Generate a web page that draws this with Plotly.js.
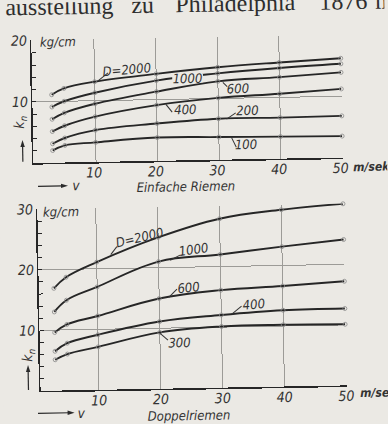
<!DOCTYPE html>
<html><head><meta charset="utf-8">
<script src="https://cdn.plot.ly/plotly-3.0.1.min.js"></script>
<style>
html,body{margin:0;padding:0;background:#ebe9e4;overflow:hidden;}
#chart{width:388px;height:424px;transform:rotate(-1.03deg);transform-origin:194px 212px;}
</style></head><body><div id="chart"></div>
<script>
// ---- data ----
const speeds = [3, 5, 10, 20, 30, 40, 50];
const einfacheNames = ['2000', '1000', '600', '400', '200', '100'];
const einfache2000 = [11.1, 12.1, 13.1, 14.2, 15.1, 15.7, 16.2];
const einfache1000 = [9.1, 10.0, 11.3, 13.1, 14.1, 14.8, 15.3];
const einfache600  = [7.1, 8.1, 9.5, 11.3, 12.8, 13.3, 13.9];
const einfache400  = [5.1, 6.0, 7.4, 9.1, 10.1, 10.6, 11.2];
const einfache200  = [3.1, 4.0, 5.2, 6.1, 6.7, 6.7, 6.8];
const einfache100  = [2.0, 2.8, 3.2, 3.8, 3.7, 3.6, 3.5];
const doppelNames = ['2000', '1000', '600', '400', '300'];
const doppel2000 = [16.9, 18.7, 21.1, 25.0, 27.9, 29.2, 30.0];
const doppel1000 = [13.0, 14.9, 17.0, 21.0, 22.0, 23.1, 24.1];
const doppel600  = [9.6, 10.9, 12.2, 14.9, 16.1, 16.6, 17.2];
const doppel400  = [6.5, 7.8, 9.1, 11.1, 12.0, 12.6, 12.7];
const doppel300  = [5.1, 6.0, 7.1, 9.3, 10.1, 10.2, 10.1];
const xTickVals = [10, 20, 30, 40, 50];
const xTickText = ['10', '20', '30', '40', '50'];
const yTickValsTop = [10, 20];
const yTickTextTop = ['10', '20'];
const yTickValsBottom = [10, 20, 30];
const yTickTextBottom = ['10', '20', '30'];
const einfacheLabels = ['D=2000', '1000', '600', '400', '200', '100'];
const doppelLabels = ['D=2000', '1000', '600', '400', '300'];

// ---- styling / placement ----
const W = 388, H = 424;
const px = X => X / W;
const py = Y => 1 - Y / H;
const PAPER = '#ebe9e4';
const INK = '#262626';
const GRID = '#9c9b97';
const FONT = "'DejaVu Sans Condensed', 'Liberation Sans Narrow', 'Roboto', sans-serif";
const ifont = (size) => ({family: FONT, size: size, color: '#333333', style: 'italic'});

// label placement (data coordinates) for each curve label + leader line
const einfachePlace = [
  {v: 15.3, k: 15.0, ang: -4, lead: [10.5, 13.2, 12.2, 14.5]},
  {v: 25.1, k: 13.4, ang: 0, mask: [22.6, 27.6, 12.7, 14.1]},
  {v: 33.2, k: 11.6, ang: 0, lead: [30.8, 12.6, 31.5, 11.9]},
  {v: 24.6, k: 8.3, ang: 0, lead: [21.5, 9.2, 22.5, 7.9]},
  {v: 34.7, k: 7.9, ang: 0, lead: [31.3, 6.6, 32.8, 7.6]},
  {v: 34.3, k: 2.4, ang: 0, lead: [32.0, 3.7, 32.8, 2.0]}
];
const doppelPlace = [
  {v: 17.1, k: 25.0, ang: -12, lead: [12.3, 22.3, 13.3, 23.6]},
  {v: 25.7, k: 22.9, ang: -7, lead: [21.9, 21.2, 23.5, 22.0]},
  {v: 24.7, k: 16.7, ang: -5, lead: [21.6, 15.1, 22.9, 16.4]},
  {v: 35.2, k: 13.6, ang: -4, lead: [31.7, 12.1, 33.3, 13.4]},
  {v: 23.1, k: 7.6, ang: 0, lead: [20.0, 9.2, 21.3, 8.0]}
];

const einfacheSeries = [einfache2000, einfache1000, einfache600, einfache400, einfache200, einfache100];
const doppelSeries = [doppel2000, doppel1000, doppel600, doppel400, doppel300];

function curve(ys, name, xa, ya) {
  return {
    x: speeds, y: ys, name: 'D=' + name, xaxis: xa, yaxis: ya,
    type: 'scatter', mode: 'lines+markers', hoverinfo: 'skip',
    line: {color: INK, width: 1.9, shape: 'spline', smoothing: 1.1},
    marker: {symbol: 'circle-open', size: 4, color: '#8a8a8a', line: {width: 0.8, color: '#8a8a8a'}},
    cliponaxis: false, showlegend: false
  };
}
const data = [];
einfacheSeries.forEach((s, i) => data.push(curve(s, einfacheNames[i], 'x', 'y')));
doppelSeries.forEach((s, i) => data.push(curve(s, doppelNames[i], 'x2', 'y2')));

const annotations = [];
const shapes = [];
function addLabels(texts, place, xr, yr) {
  texts.forEach((t, i) => {
    const p = place[i];
    if (p.mask) {
      shapes.push({type: 'rect', xref: xr, yref: yr, x0: p.mask[0], x1: p.mask[1], y0: p.mask[2], y1: p.mask[3],
        fillcolor: PAPER, line: {width: 0}, layer: 'above'});
    }
    annotations.push({
      xref: xr, yref: yr, x: p.v, y: p.k, text: t, showarrow: false,
      xanchor: 'center', yanchor: 'middle', textangle: p.ang, font: ifont(13)
    });
    if (p.lead) {
      shapes.push({type: 'line', xref: xr, yref: yr, x0: p.lead[0], y0: p.lead[1], x1: p.lead[2], y1: p.lead[3],
        line: {color: '#333', width: 1}});
    }
  });
}
addLabels(einfacheLabels, einfachePlace, 'x', 'y');
addLabels(doppelLabels, doppelPlace, 'x2', 'y2');

function ptext(X, Y, text, opts) {
  annotations.push(Object.assign({xref: 'paper', yref: 'paper', x: px(X), y: py(Y), text: text,
    showarrow: false, xanchor: 'center', yanchor: 'middle', font: ifont(13.5)}, opts || {}));
}
// arrow drawn as a line plus a small filled head (paper coordinates, in pixels)
function harrow(X0, X1, Y) {
  shapes.push({type: 'line', xref: 'paper', yref: 'paper', x0: px(X0), x1: px(X1 - 5), y0: py(Y), y1: py(Y),
    line: {color: '#2a2a2a', width: 1.2}});
  shapes.push({type: 'path', xref: 'paper', yref: 'paper',
    path: `M ${px(X1)} ${py(Y)} L ${px(X1 - 7)} ${py(Y - 2.2)} L ${px(X1 - 7)} ${py(Y + 2.2)} Z`,
    fillcolor: '#2a2a2a', line: {width: 0}});
}
function varrow(X, Y0, Y1) {
  shapes.push({type: 'line', xref: 'paper', yref: 'paper', x0: px(X), x1: px(X), y0: py(Y0), y1: py(Y1 + 5),
    line: {color: '#2a2a2a', width: 1.2}});
  shapes.push({type: 'path', xref: 'paper', yref: 'paper',
    path: `M ${px(X)} ${py(Y1)} L ${px(X - 2.2)} ${py(Y1 + 7)} L ${px(X + 2.2)} ${py(Y1 + 7)} Z`,
    fillcolor: '#2a2a2a', line: {width: 0}});
}

// header line of the book page (cut at the top)
const serif = {family: "'Liberation Serif', 'DejaVu Serif', serif", size: 24, color: '#2e2e2e'};
[['ausstellung', 8], ['zu', 134], ['Philadelphia', 178], ['1876', 322], ['m', 378]].forEach(w => {
  annotations.push({xref: 'paper', yref: 'paper', x: px(w[1]), y: py(-9.5), text: w[0], showarrow: false,
    xanchor: 'left', yanchor: 'top', font: serif, borderpad: 0});
});

// top panel texts
ptext(41, 40.0, 'kg/cm', {xanchor: 'left', width: 42, align: 'left', bgcolor: PAPER, borderpad: 1, font: ifont(13)});
ptext(21.6, 119, 'k<sub>n</sub>', {textangle: -90, font: ifont(14)});
varrow(23.8, 158.6, 137);
harrow(38.5, 68.5, 183.5);
ptext(76.5, 183.3, 'v');
ptext(186.3, 186.5, 'Einfache Riemen', {font: ifont(13)});
ptext(352, 169.5, 'm/sek', {xanchor: 'left', font: Object.assign(ifont(12), {weight: 'bold'})});

// bottom panel texts
ptext(41, 209.5, 'kg/cm', {xanchor: 'left', width: 42, align: 'left', bgcolor: PAPER, borderpad: 1, font: ifont(13)});
ptext(25.7, 352, 'k<sub>n</sub>', {textangle: -90, font: ifont(14)});
varrow(25.3, 387, 362);
harrow(34.4, 71, 410.5);
ptext(78, 410.8, 'v');
ptext(185.5, 415.5, 'Doppelriemen', {font: ifont(13)});
ptext(355, 395.5, 'm/sek', {xanchor: 'left', font: Object.assign(ifont(12), {weight: 'bold'})});

const axisCommon = {
  showline: true, linecolor: INK, linewidth: 1.6, zeroline: false,
  showgrid: true, gridcolor: GRID, gridwidth: 1, automargin: false,
  tickfont: ifont(14), fixedrange: true
};
const layout = {
  width: W, height: H,
  margin: {l: 0, r: 0, t: 0, b: 0},
  paper_bgcolor: PAPER, plot_bgcolor: PAPER,
  showlegend: false,
  xaxis: Object.assign({}, axisCommon, {domain: [px(34.4), px(343.8)], range: [-0.15, 50.05], anchor: 'y',
    tickmode: 'array', tickvals: xTickVals, ticktext: xTickText, ticks: '', ticklabelstandoff: -3, ticklabelshift: -2}),
  yaxis: Object.assign({}, axisCommon, {domain: [py(160.2), py(37.5)], range: [0, 20.03], anchor: 'x',
    tickmode: 'array', tickvals: yTickValsTop, ticktext: yTickTextTop, ticks: 'inside', ticklen: 4, tickcolor: INK,
    minor: {dtick: 2, tick0: 0, ticks: 'inside', ticklen: 4, tickcolor: INK, tickwidth: 1, showgrid: false}}),
  xaxis2: Object.assign({}, axisCommon, {domain: [px(37.4), px(343.4)], range: [0.55, 50.05], anchor: 'y2',
    tickmode: 'array', tickvals: xTickVals, ticktext: xTickText, ticks: '', ticklabelstandoff: -3}),
  yaxis2: Object.assign({}, axisCommon, {domain: [py(388.1), py(206.3)], range: [0, 30.03], anchor: 'x2',
    tickmode: 'array', tickvals: yTickValsBottom, ticktext: yTickTextBottom, ticks: 'inside', ticklen: 4, tickcolor: INK,
    minor: {dtick: 2, tick0: 0, ticks: 'inside', ticklen: 4, tickcolor: INK, tickwidth: 1, showgrid: false}}),
  annotations: annotations,
  shapes: shapes
};
Plotly.newPlot('chart', data, layout, {displayModeBar: false, staticPlot: true});
</script></body></html>
